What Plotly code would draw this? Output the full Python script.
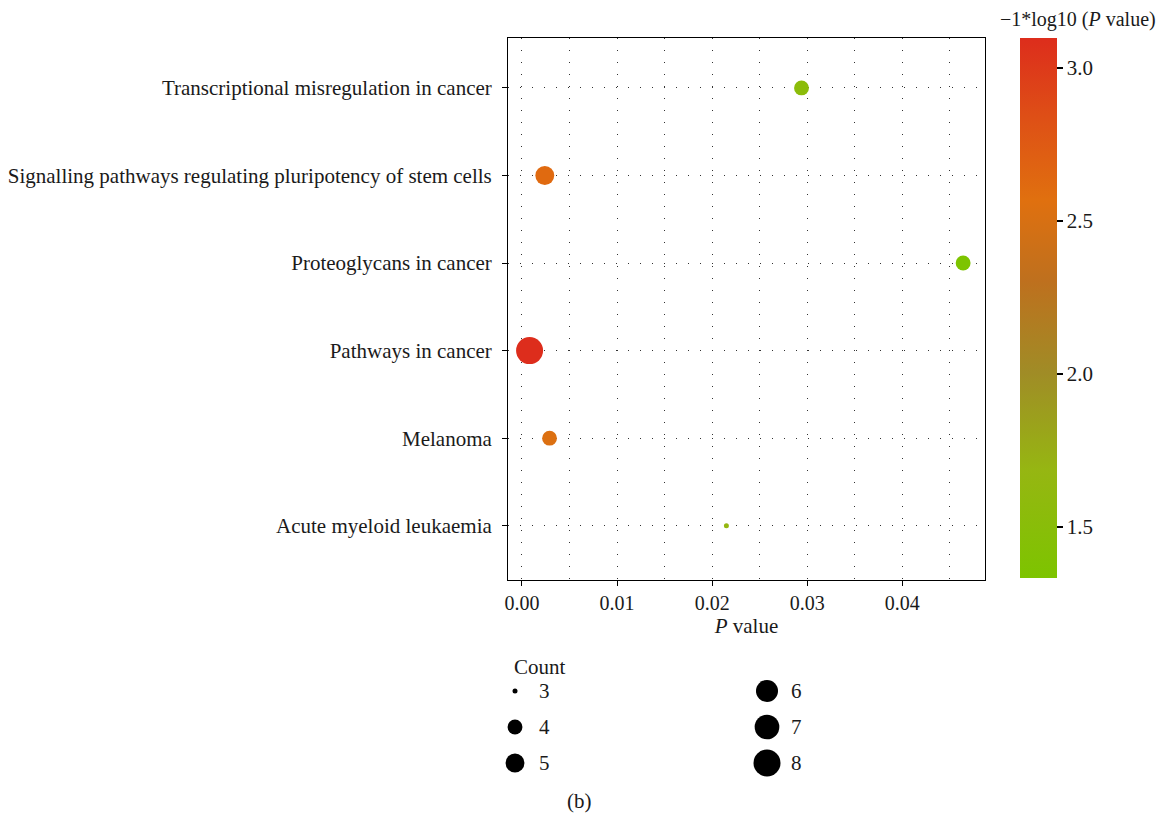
import numpy as np
import plotly.graph_objects as go

# ---------------- data ----------------
pathways = [
    "Acute myeloid leukaemia",
    "Melanoma",
    "Pathways in cancer",
    "Proteoglycans in cancer",
    "Signalling pathways regulating pluripotency of stem cells",
    "Transcriptional misregulation in cancer",
]
p_values = [0.0215, 0.0029, 0.0008, 0.0464, 0.0024, 0.0294]
counts = [3, 4, 8, 4, 5, 4]
legend_counts = [3, 4, 5, 6, 7, 8]
colorbar_ticks = [1.5, 2.0, 2.5, 3.0]
x_ticks = [0.00, 0.01, 0.02, 0.03, 0.04]

W, H = 1165, 817
FONT = "Liberation Serif"
TXT = "#1a1a1a"


def px_x(v):
    return v / W


def px_y(v):
    return (H - v) / H


cmin_c, cmax_c = min(legend_counts), max(legend_counts)


def size_px(c):
    # area-style size scale (ggplot-like): min 5px, max 27px diameter
    return 5 + 22 * np.sqrt((np.asarray(c, float) - cmin_c) / (cmax_c - cmin_c))


neglog = [-np.log10(p) for p in p_values]

colorscale = [
    [0.0, "rgb(125,196,0)"],
    [0.2, "rgb(150,182,18)"],
    [0.38, "rgb(160,140,38)"],
    [0.55, "rgb(190,112,30)"],
    [0.7, "rgb(224,112,15)"],
    [0.85, "rgb(222,80,22)"],
    [1.0, "rgb(221,45,28)"],
]

fig = go.Figure()

fig.add_trace(go.Scatter(
    x=p_values, y=pathways, mode="markers",
    marker=dict(
        size=size_px(counts), sizemode="diameter",
        color=neglog, colorscale=colorscale,
        cmin=min(neglog), cmax=max(neglog),
        line=dict(width=0), opacity=1,
        colorbar=dict(
            x=px_x(1020), xanchor="left",
            y=px_y(38), yanchor="top",
            len=540, lenmode="pixels",
            thickness=37, thicknessmode="pixels",
            outlinewidth=0,
            tickvals=colorbar_ticks, tickformat=".1f",
            ticks="outside", ticklen=6, tickwidth=2, tickcolor="black",
            tickfont=dict(family=FONT, size=21, color=TXT),
            xpad=0, ypad=0,
        ),
    ),
    showlegend=False, cliponaxis=False, hoverinfo="x+y",
))

# size legend drawn on its own hidden axes
leg_x = [i // 3 for i in range(len(legend_counts))]
leg_y = [i % 3 for i in range(len(legend_counts))]
fig.add_trace(go.Scatter(
    x=leg_x, y=leg_y, xaxis="x2", yaxis="y2", mode="markers",
    marker=dict(size=size_px(legend_counts), color="black", opacity=1,
                line=dict(width=0)),
    showlegend=False, cliponaxis=False, hoverinfo="skip",
))

annotations = []
for xv, yv, c in zip(leg_x, leg_y, legend_counts):
    annotations.append(dict(
        x=xv, y=yv, xref="x2", yref="y2", text=str(c), showarrow=False,
        xanchor="left", yanchor="middle", xshift=22,
        font=dict(family=FONT, size=21, color=TXT),
    ))
annotations += [
    dict(x=px_x(512), y=px_y(667), xref="paper", yref="paper", text="Count",
         showarrow=False, xanchor="left", yanchor="middle",
         font=dict(family=FONT, size=21, color=TXT)),
    dict(x=px_x(579), y=px_y(801), xref="paper", yref="paper", text="(b)",
         showarrow=False, xanchor="center", yanchor="middle",
         font=dict(family=FONT, size=21, color=TXT)),
    dict(x=px_x(1078), y=px_y(19), xref="paper", yref="paper",
         text="\u22121*log10 (<i>P</i> value)",
         showarrow=False, xanchor="center", yanchor="middle",
         font=dict(family=FONT, size=20, color=TXT)),
]

grid_dash = "1px,11px"
fig.update_layout(
    width=W, height=H,
    margin=dict(l=0, r=0, t=0, b=0, autoexpand=False),
    paper_bgcolor="white", plot_bgcolor="white",
    font=dict(family=FONT, size=21, color=TXT),
    xaxis=dict(
        domain=[px_x(508), px_x(985)],
        range=[-0.00147, 0.0487],
        tickvals=x_ticks, tickformat=".2f",
        ticks="outside", ticklen=5, tickcolor="black",
        showline=True, linecolor="black", linewidth=1, mirror=True,
        showgrid=True, gridcolor="#333333", griddash=grid_dash, gridwidth=1,
        minor=dict(dtick=0.005, showgrid=True, gridcolor="#333333",
                   griddash=grid_dash, gridwidth=1, ticks=""),
        zeroline=False,
        tickfont=dict(family=FONT, size=20, color=TXT),
        title=dict(text="<i>P</i> value", font=dict(family=FONT, size=21, color=TXT),
                   standoff=2),
    ),
    yaxis=dict(
        domain=[px_y(580), px_y(38)],
        type="category", categoryorder="array", categoryarray=pathways,
        range=[-0.62, 5.57],
        ticks="outside", ticklen=5, tickcolor="black",
        showline=True, linecolor="black", linewidth=1, mirror=True,
        showgrid=True, gridcolor="#333333", griddash=grid_dash, gridwidth=1,
        zeroline=False,
        tickfont=dict(family=FONT, size=21, color=TXT),
        ticklabelstandoff=6,
    ),
    xaxis2=dict(domain=[px_x(515), px_x(767)], range=[0, 1], visible=False,
                anchor="y2", fixedrange=True),
    yaxis2=dict(domain=[px_y(763), px_y(691)], range=[2, 0], visible=False,
                anchor="x2", fixedrange=True),
    annotations=annotations,
)

fig.write_html(
    "out.html",
    config={"displayModeBar": False},
    post_script="document.body.style.margin='0';document.body.style.overflow='hidden';",
)
